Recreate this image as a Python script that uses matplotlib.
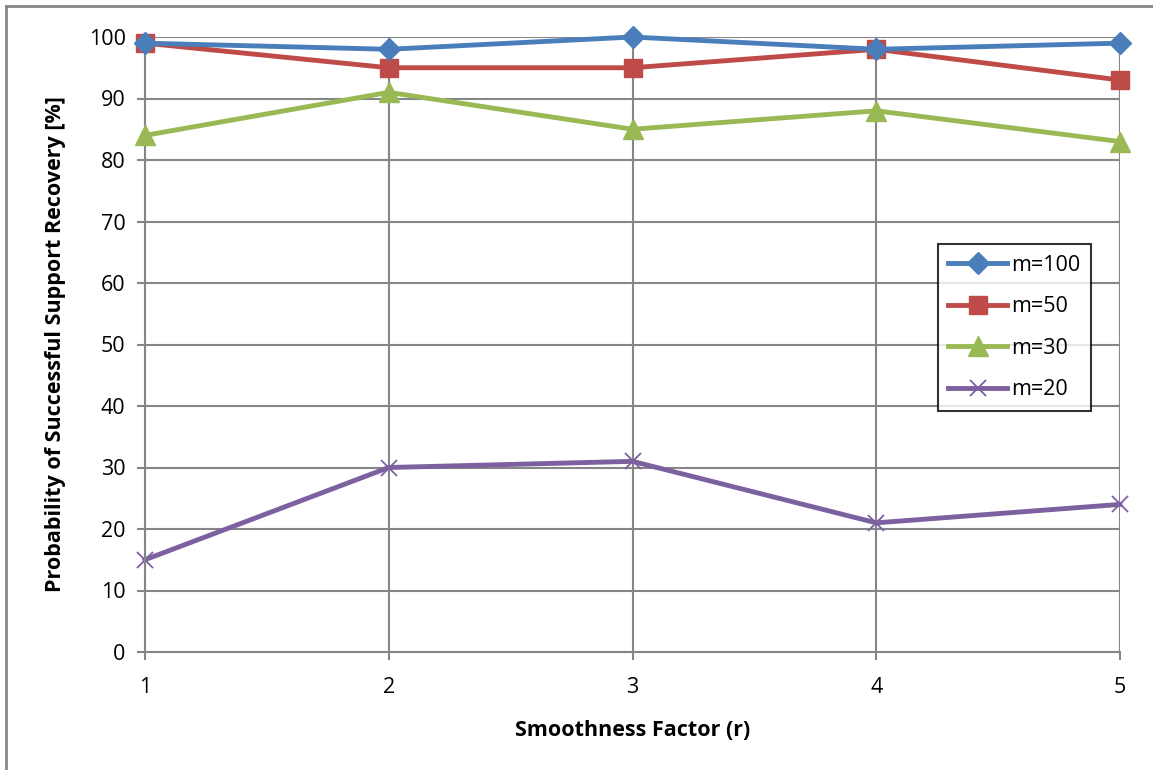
import matplotlib
matplotlib.use('Agg')
import matplotlib.pyplot as plt
from matplotlib.lines import Line2D

# 데이터 ==========================================================
r_values = [1, 2, 3, 4, 5]
m100 = [99, 98, 100, 98, 99]
m50 = [99, 95, 95, 98, 93]
m30 = [84, 91, 85, 88, 83]
m20 = [15, 30, 31, 21, 24]
labels = ['m=100', 'm=50', 'm=30', 'm=20']

plt.rcParams['font.family'] = ['Open Sans', 'DejaVu Sans']

fig = plt.figure(figsize=(11.53, 7.7), dpi=100)
ax = fig.add_axes([145/1153, 1-652/770, 975/1153, 615/770])

# 바깥 테두리 (잘린 차트 영역)
fig.add_artist(Line2D([6/1153, 1], [1-6/770, 1-6/770], color='#868686', lw=2, transform=fig.transFigure))
fig.add_artist(Line2D([6/1153, 6/1153], [0, 1-6/770], color='#868686', lw=2, transform=fig.transFigure))

ax.plot(r_values, m100, color='#4A7EBB', lw=3.5, marker='D', markersize=11, label=labels[0], clip_on=False, zorder=5)
ax.plot(r_values, m50, color='#BE4B48', lw=3.5, marker='s', markersize=13, label=labels[1], clip_on=False, zorder=4)
ax.plot(r_values, m30, color='#98B954', lw=3.5, marker='^', markersize=14, label=labels[2], clip_on=False, zorder=3)
ax.plot(r_values, m20, color='#7D60A0', lw=3.5, marker='x', markersize=12, markeredgewidth=1.3, label=labels[3], clip_on=False, zorder=2)

ax.set_xlim(1, 5)
ax.set_ylim(0, 100)
ax.set_xticks(r_values)
ax.set_yticks(range(0, 101, 10))
ax.grid(True, color='#868686', lw=1.5)
ax.set_axisbelow(True)
for s in ['top', 'right']:
    ax.spines[s].set_visible(False)
for s in ['left', 'bottom']:
    ax.spines[s].set_color('#868686')
    ax.spines[s].set_linewidth(1.5)
ax.tick_params(axis='both', colors='#868686', labelcolor='black', labelsize=15.5, length=6, width=1.5)
ax.tick_params(axis='x', pad=12)
ax.tick_params(axis='y', pad=8)

ax.set_xlabel('Smoothness Factor (r)', fontsize=15.5, fontweight='bold', labelpad=16)
ax.set_ylabel('Probability of Successful Support Recovery [%]', fontsize=15.5, fontweight='bold', labelpad=16)

leg = ax.legend(loc='upper left', bbox_to_anchor=(0.813, 0.663), borderaxespad=0, fontsize=15.5,
                frameon=True, fancybox=False, edgecolor='black', handlelength=2.7, handletextpad=0.2,
                labelspacing=0.95, borderpad=0.5)
leg.get_frame().set_linewidth(1.5)

fig.savefig('out.png', dpi=100)
